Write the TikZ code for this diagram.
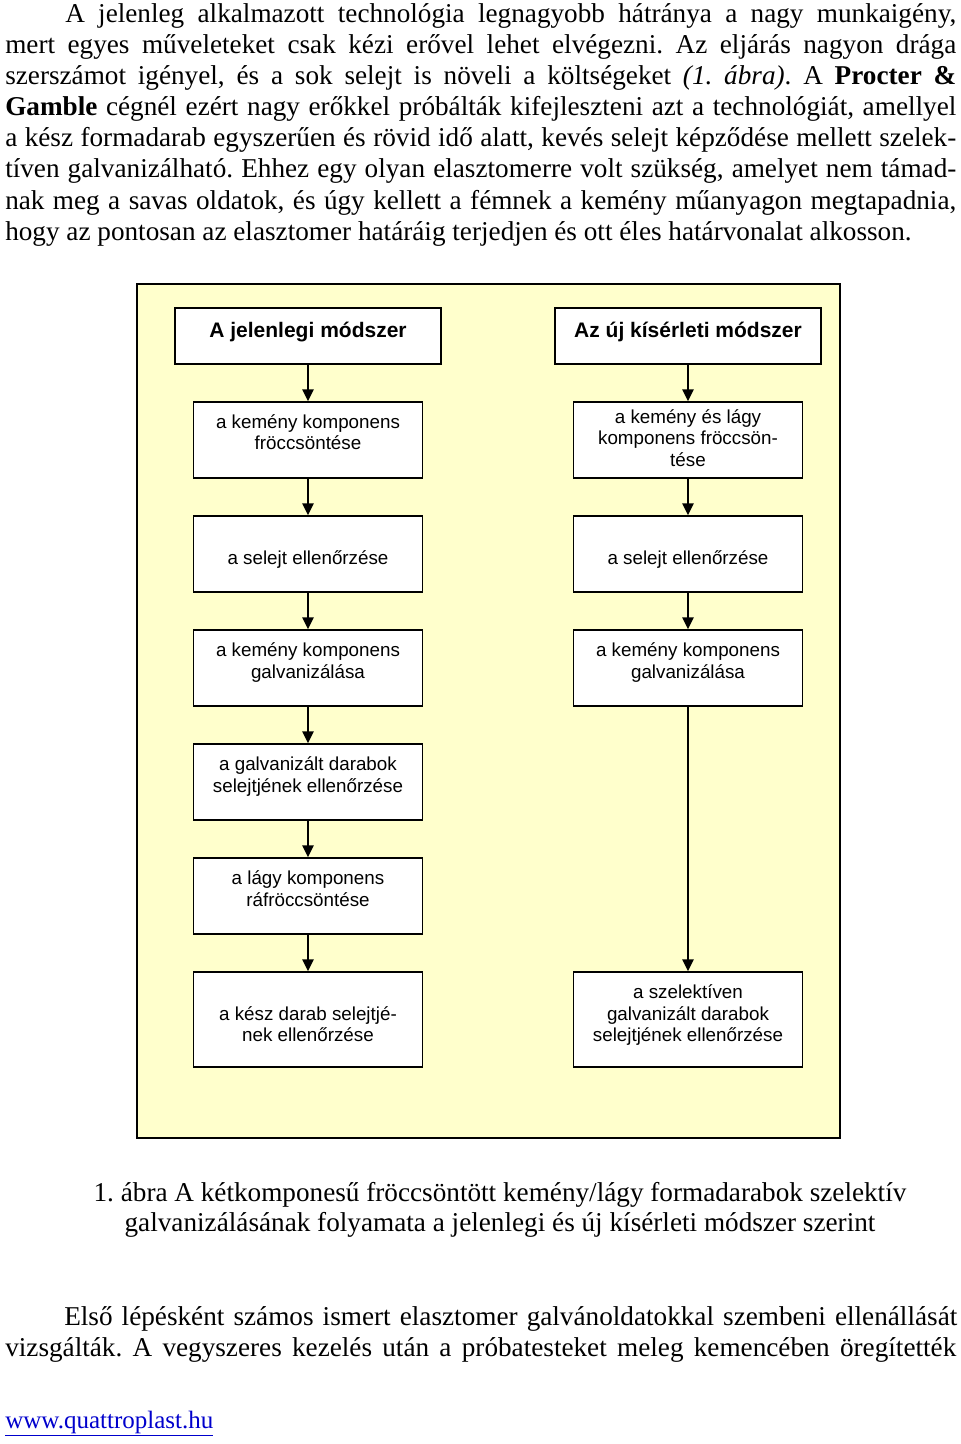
\documentclass[tikz,border=0pt]{standalone}
\usepackage{fontspec}
\setmainfont{Liberation Serif}
\setsansfont{Liberation Sans}
\usetikzlibrary{arrows.meta}
\definecolor{bgyellow}{RGB}{255,255,204}
\definecolor{linkblue}{RGB}{0,0,204}
\frenchspacing
\begin{document}
\begin{tikzpicture}[x=0.75pt,y=-0.75pt,
  bodyline/.style={anchor=base west, inner sep=0pt, font=\fontsize{20.4}{23.5}\selectfont},
  flowbox/.style={draw=black, line width=1.1pt, fill=white, minimum width=171.75pt, minimum height=57pt, inner sep=0pt},
  tallbox/.style={flowbox, minimum height=71.25pt},
  headbox/.style={draw=black, line width=1.1pt, fill=white, minimum width=199.5pt, minimum height=42pt, inner sep=0pt},
  boxtext/.style={anchor=base, align=center, inner sep=0pt, font=\sffamily\fontsize{14.1}{16.1}\selectfont},
  headtext/.style={anchor=base, align=center, inner sep=0pt, font=\sffamily\bfseries\fontsize{15.75}{18}\selectfont},
  arr/.style={line width=1.4pt, -{Triangle[length=9pt,width=8.5pt]}}
]
\useasboundingbox (0,0) rectangle (960,1444);

% body text, first paragraph
\node[bodyline] (p1) at (65,22.5) {\makebox[668.25pt][s]{A jelenleg alkalmazott technológia legnagyobb hátránya a nagy munkaigény,}};
\node[bodyline] (p2) at (5,53.6) {\makebox[713.25pt][s]{mert egyes műveleteket csak kézi erővel lehet elvégezni. Az eljárás nagyon drága}};
\node[bodyline] (p3) at (5,84.7) {\makebox[713.25pt][s]{szerszámot igényel, és a sok selejt is növeli a költségeket \textit{(1. ábra)}. A \textbf{Procter \&}}};
\node[bodyline] (p4) at (5,115.8) {\makebox[713.25pt][s]{\textbf{Gamble} cégnél ezért nagy erőkkel próbálták kifejleszteni azt a technológiát, amellyel}};
\node[bodyline] (p5) at (5,146.9) {\makebox[713.25pt][s]{a kész formadarab egyszerűen és rövid idő alatt, kevés selejt képződése mellett szelek-}};
\node[bodyline] (p6) at (5,178) {\makebox[713.25pt][s]{tíven galvanizálható. Ehhez egy olyan elasztomerre volt szükség, amelyet nem támad-}};
\node[bodyline] (p7) at (5,209.1) {\makebox[713.25pt][s]{nak meg a savas oldatok, és úgy kellett a fémnek a kemény műanyagon megtapadnia,}};
\node[bodyline] (p8) at (5,240.2) {hogy az pontosan az elasztomer határáig terjedjen és ott éles határvonalat alkosson.};

% background panel
\draw[line width=1.5pt, fill=bgyellow] (137,284) rectangle (840,1138);

% headers
\node[headbox] (H1) at (308,336) {};
\node[headtext] at (308,337) {A jelenlegi módszer};
\node[headbox] (H2) at (688,336) {};
\node[headtext] at (688,337) {Az új kísérleti módszer};

% left column (multi-line texts are placed by the baseline of their last line)
\node[flowbox] (L1) at (308,440) {};
\node[boxtext] at (308,449.5) {a kemény komponens\\fröccsöntése};
\node[flowbox] (L2) at (308,554) {};
\node[boxtext] at (308,564) {a selejt ellenőrzése};
\node[flowbox] (L3) at (308,668) {};
\node[boxtext] at (308,678) {a kemény komponens\\galvanizálása};
\node[flowbox] (L4) at (308,782) {};
\node[boxtext] at (308,792) {a galvanizált darabok\\selejtjének ellenőrzése};
\node[flowbox] (L5) at (308,896) {};
\node[boxtext] at (308,906) {a lágy komponens\\ráfröccsöntése};
\node[tallbox] (L6) at (308,1019.5) {};
\node[boxtext] at (308,1041.5) {a kész darab selejtjé-\\nek ellenőrzése};

% right column
\node[flowbox] (R1) at (688,440) {};
\node[boxtext] at (688,466) {a kemény és lágy\\komponens fröccsön-\\tése};
\node[flowbox] (R2) at (688,554) {};
\node[boxtext] at (688,564) {a selejt ellenőrzése};
\node[flowbox] (R3) at (688,668) {};
\node[boxtext] at (688,678) {a kemény komponens\\galvanizálása};
\node[tallbox] (R6) at (688,1019.5) {};
\node[boxtext] at (688,1041.5) {a szelektíven\\galvanizált darabok\\selejtjének ellenőrzése};

% connectors
\draw[arr] (H1.south) -- (L1.north);
\draw[arr] (L1.south) -- (L2.north);
\draw[arr] (L2.south) -- (L3.north);
\draw[arr] (L3.south) -- (L4.north);
\draw[arr] (L4.south) -- (L5.north);
\draw[arr] (L5.south) -- (L6.north);
\draw[arr] (H2.south) -- (R1.north);
\draw[arr] (R1.south) -- (R2.north);
\draw[arr] (R2.south) -- (R3.north);
\draw[arr] (R3.south) -- (R6.north);

% caption
\node[anchor=base, align=center, inner sep=0pt, font=\fontsize{20.4}{22.5}\selectfont] (cap) at (500,1231.7)
  {1. ábra A kétkomponesű fröccsöntött kemény/lágy formadarabok szelektív\\galvanizálásának folyamata a jelenlegi és új kísérleti módszer szerint};

% second paragraph
\node[bodyline] (q1) at (64,1325) {\makebox[669.75pt][s]{Első lépésként számos ismert elasztomer galvánoldatokkal szembeni ellenállását}};
\node[bodyline] (q2) at (5,1356.7) {\makebox[713.25pt][s]{vizsgálták. A vegyszeres kezelés után a próbatesteket meleg kemencében öregítették}};

% link
\node[anchor=base west, inner sep=0pt, text=linkblue, font=\fontsize{18.75}{21}\selectfont] (link) at (5,1428) {\underline{www.quattroplast.hu}};
\end{tikzpicture}
\end{document}
